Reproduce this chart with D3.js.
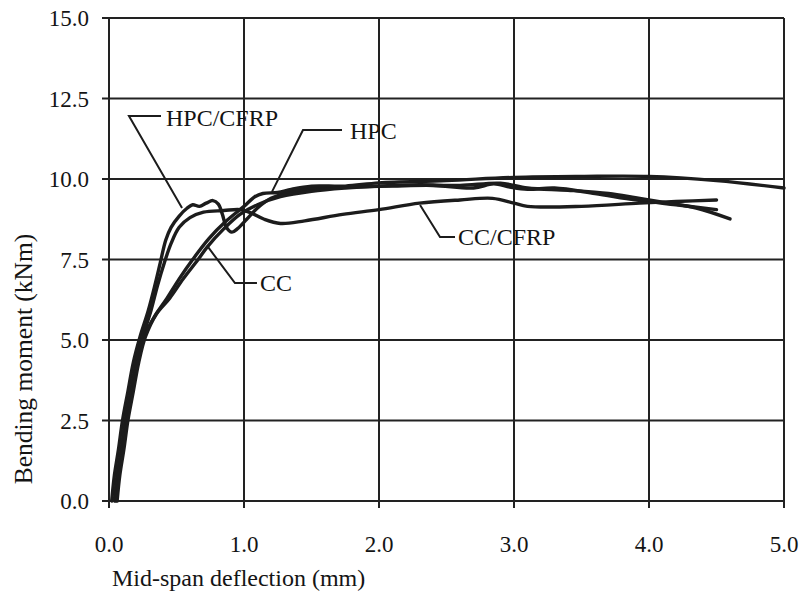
<!DOCTYPE html>
<style>
body { margin: 0; background: #fff; }
text { font-family: "Liberation Serif", "Times New Roman", serif; fill: #141414; }
.grid line { stroke: #222; stroke-width: 2; }
.curve { fill: none; stroke: #1c1c1c; stroke-width: 3.4; stroke-linejoin: round; stroke-linecap: round; }
.leader { fill: none; stroke: #1c1c1c; stroke-width: 2; }
</style>
<script src="https://d3js.org/d3.v7.min.js"></script>
<body>
<script>

var width = 803,
    height = 594;

// data (deflection mm, moment kNm)
var xTicks = [0, 1, 2, 3, 4, 5];
var yTicks = [0, 2.5, 5, 7.5, 10, 12.5, 15];

var hpcCfrp = [[0.02,0],[0.04,0.8],[0.07,1.6],[0.10,2.5],[0.14,3.4],[0.18,4.3],[0.23,5.1],[0.29,5.9],[0.34,6.7],[0.38,7.4],
  [0.42,8.1],[0.46,8.5],[0.52,8.85],[0.58,9.1],[0.62,9.2],[0.67,9.15],[0.72,9.25],[0.77,9.33],[0.81,9.22],[0.84,8.9],
  [0.87,8.5],[0.91,8.35],[0.95,8.45],[1.02,8.75],[1.1,9.1],[1.2,9.4],[1.35,9.6],[1.55,9.72],[1.8,9.75],[2.1,9.78],
  [2.4,9.8],[2.7,9.72],[2.85,9.85],[2.97,9.75],[3.1,9.68],[3.3,9.72],[3.6,9.55],[3.9,9.35],[4.2,9.2],[4.5,9.05]];

var ccCfrp = [[0.04,0],[0.06,0.8],[0.09,1.6],[0.12,2.5],[0.16,3.4],[0.20,4.3],[0.25,5.1],[0.31,5.9],[0.36,6.7],[0.41,7.4],
  [0.46,8.0],[0.52,8.5],[0.6,8.8],[0.7,8.97],[0.85,9.02],[0.97,9.05],[1.05,8.95],[1.15,8.75],[1.27,8.62],[1.45,8.7],
  [1.73,8.9],[2.0,9.05],[2.3,9.25],[2.6,9.35],[2.84,9.4],[3.0,9.25],[3.1,9.15],[3.5,9.15],[3.93,9.25],[4.2,9.3],[4.5,9.35]];

var hpc = [[0.05,0],[0.07,0.8],[0.1,1.6],[0.13,2.5],[0.17,3.4],[0.21,4.3],[0.26,5.1],[0.34,5.75],[0.43,6.3],[0.52,6.9],
  [0.62,7.5],[0.74,8.15],[0.87,8.7],[1.0,9.15],[1.08,9.45],[1.14,9.55],[1.25,9.58],[1.35,9.68],[1.5,9.78],[1.75,9.78],
  [2.0,9.88],[2.5,9.95],[3.0,10.05],[3.5,10.08],[4.0,10.08],[4.5,9.95],[5.0,9.72]];

var cc = [[0.06,0],[0.08,0.8],[0.11,1.6],[0.14,2.5],[0.18,3.4],[0.22,4.3],[0.27,5.1],[0.35,5.8],[0.45,6.3],[0.55,6.9],
  [0.66,7.5],[0.73,7.9],[0.85,8.45],[0.97,8.9],[1.1,9.2],[1.27,9.45],[1.5,9.62],[1.75,9.72],[2.0,9.78],[2.3,9.82],
  [2.6,9.8],[2.9,9.87],[3.1,9.72],[3.4,9.65],[3.7,9.55],[3.9,9.42],[4.1,9.28],[4.35,9.1],[4.6,8.76]];

var svg = d3.select("body").append("svg")
    .attr("width", width)
    .attr("height", height);

var x = d3.scaleLinear().domain([0, 5]).range([109, 784]);
var y = d3.scaleLinear().domain([0, 15]).range([501, 18]);

// grid
var grid = svg.append("g").attr("class", "grid");
grid.selectAll(".h").data(yTicks).enter().append("line")
    .attr("x1", x(0) - 7).attr("x2", x(5))
    .attr("y1", function(d) { return y(d); }).attr("y2", function(d) { return y(d); });
grid.selectAll(".v").data(xTicks).enter().append("line")
    .attr("y1", y(15)).attr("y2", y(0) + 7)
    .attr("x1", function(d) { return x(d); }).attr("x2", function(d) { return x(d); });

// tick labels
svg.selectAll(".xl").data(xTicks).enter().append("text")
    .attr("x", function(d) { return x(d); })
    .attr("y", 552)
    .attr("text-anchor", "middle")
    .attr("font-size", 23)
    .text(function(d) { return d3.format(".1f")(d); });

svg.selectAll(".yl").data(yTicks).enter().append("text")
    .attr("x", 89)
    .attr("y", function(d) { return y(d) + 8; })
    .attr("text-anchor", "end")
    .attr("font-size", 23)
    .text(function(d) { return d3.format(".1f")(d); });

svg.append("text")
    .attr("x", 112).attr("y", 586)
    .attr("font-size", 24)
    .text("Mid-span deflection (mm)");

svg.append("text")
    .attr("transform", "translate(32,359) rotate(-90)")
    .attr("text-anchor", "middle")
    .attr("font-size", 25.5)
    .text("Bending moment (kNm)");

// curves
var line = d3.line()
    .x(function(d) { return x(d[0]); })
    .y(function(d) { return y(d[1]); })
    .curve(d3.curveCatmullRom.alpha(0.5));

svg.selectAll(".curve").data([hpcCfrp, ccCfrp, hpc, cc]).enter().append("path")
    .attr("class", "curve")
    .attr("d", line);

// labels with leader lines (data units)
var notes = [
  {text: "HPC/CFRP", pts: [[0.385, 11.96], [0.148, 11.96], [0.541, 9.10]], tx: 0.422, ty: 11.9},
  {text: "HPC", pts: [[1.726, 11.52], [1.437, 11.52], [1.207, 9.60]], tx: 1.785, ty: 11.5},
  {text: "CC", pts: [[1.096, 6.77], [0.933, 6.77], [0.733, 7.89]], tx: 1.119, ty: 6.77},
  {text: "CC/CFRP", pts: [[2.563, 8.20], [2.452, 8.20], [2.304, 9.19]], tx: 2.585, ty: 8.2}
];

var leader = d3.line()
    .x(function(d) { return x(d[0]); })
    .y(function(d) { return y(d[1]); });

notes.forEach(function(n) {
  svg.append("path").attr("class", "leader").attr("d", leader(n.pts));
  svg.append("text")
      .attr("x", x(n.tx)).attr("y", y(n.ty))
      .attr("dy", "0.35em")
      .attr("font-size", 24)
      .text(n.text);
});

</script>
